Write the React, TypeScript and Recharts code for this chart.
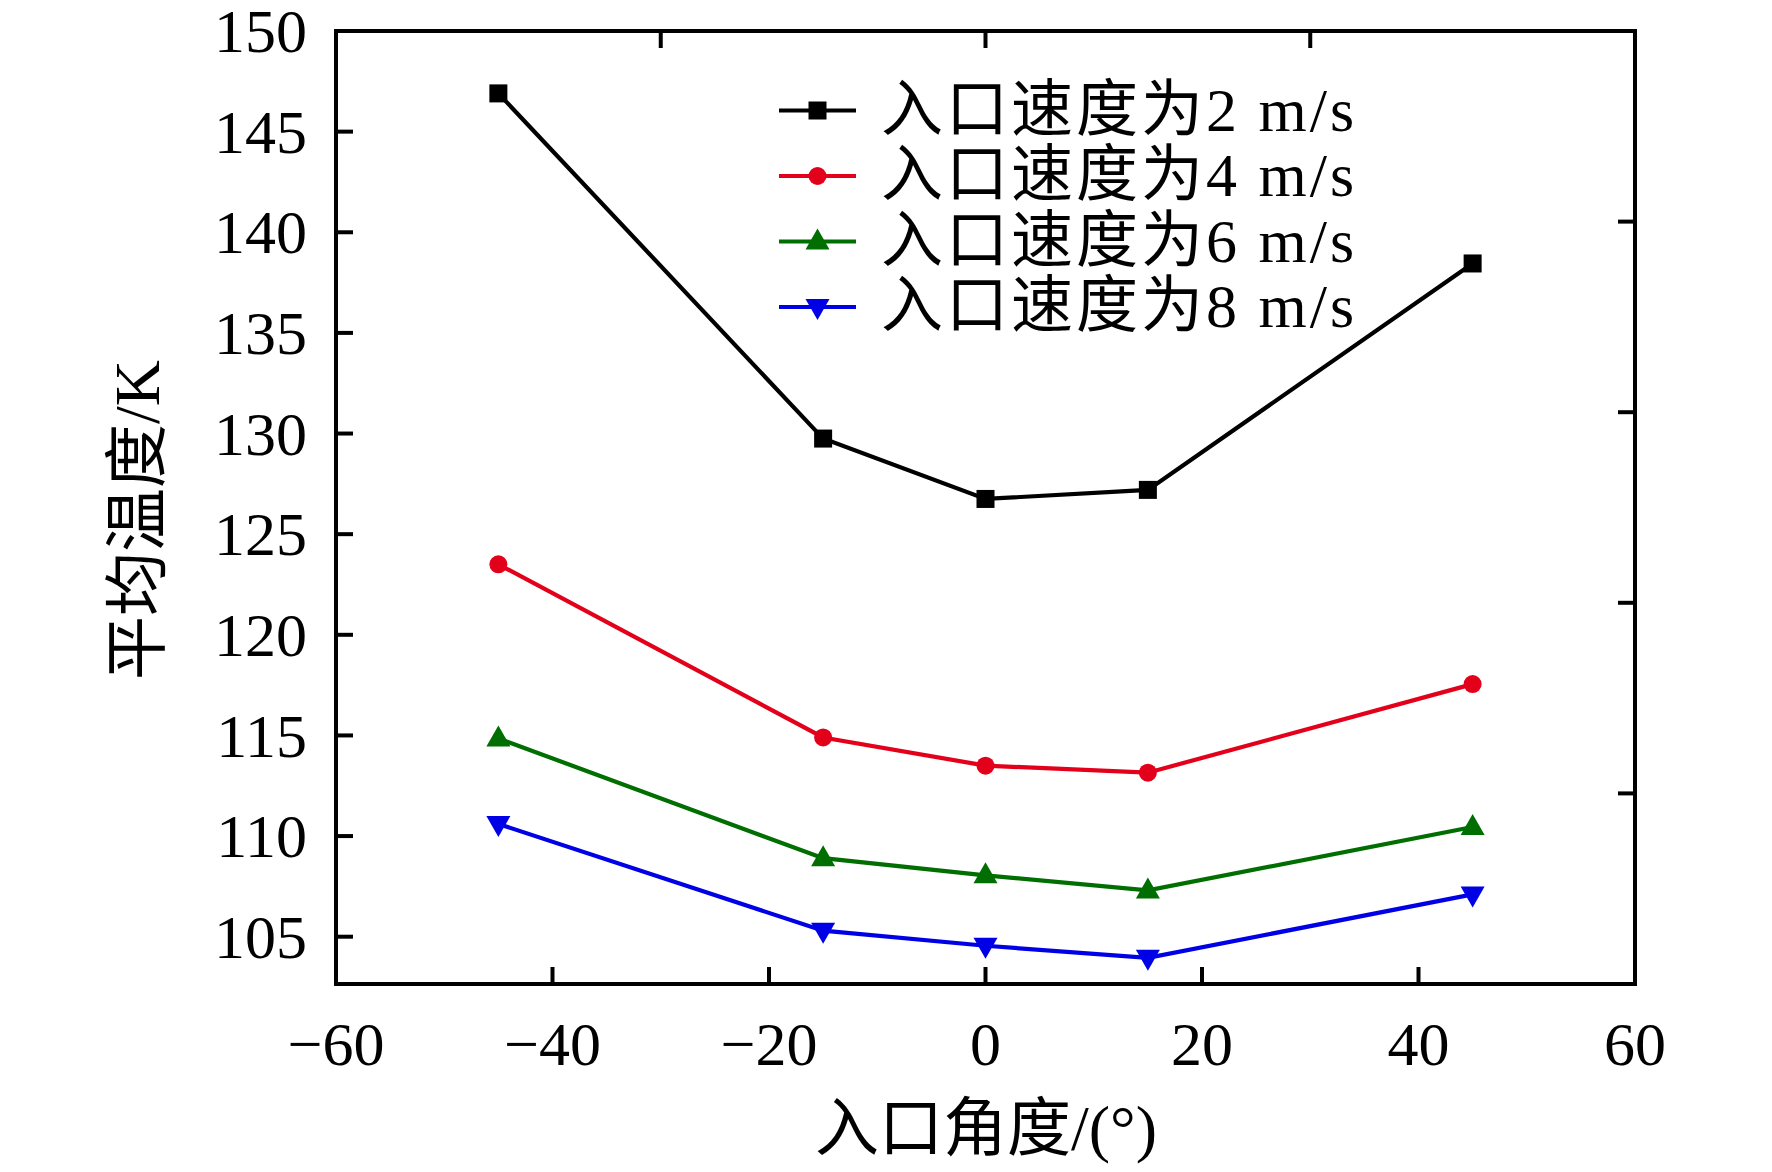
import React from 'react';
import { LineChart, Line, XAxis, YAxis } from 'recharts';

// ---- data ----
const angles = [-45, -15, 0, 15, 45];
const temp2 = [146.9, 129.75, 126.75, 127.2, 138.45];
const temp4 = [123.5, 114.9, 113.5, 113.15, 117.55];
const temp6 = [114.85, 108.9, 108.05, 107.3, 110.45];
const temp8 = [110.6, 105.3, 104.55, 103.95, 107.1];

const seriesKeys = ['v2', 'v4', 'v6', 'v8'];
const seriesNames = ['入口速度为2 m/s', '入口速度为4 m/s', '入口速度为6 m/s', '入口速度为8 m/s'];
const seriesColors = ['#000000', '#e3001b', '#006e00', '#0000e6'];
const seriesMarkers = ['square', 'circle', 'triangleUp', 'triangleDown'];

const xTicks = [-60, -40, -20, 0, 20, 40, 60];
const yTicks = [105, 110, 115, 120, 125, 130, 135, 140, 145, 150];
const xDomain = [-60, 60];
const yDomain = [102.65, 150];
const frameDomain = [0, 5];
const frameTicks = [1, 2, 3, 4];

const xLabel = '入口角度/(°)';
const yLabel = '平均温度/K';

const data = angles.map((a, i) => ({
  angle: a,
  v2: temp2[i],
  v4: temp4[i],
  v6: temp6[i],
  v8: temp8[i],
}));

// ---- style ----
const FONT = '"Liberation Serif", "Times New Roman", "Noto Sans CJK SC", serif';
const TICK_LEN = 17;
const AXIS_SW = 4;
const LINE_SW = 4.2;
const TICK_FS = 62;
const LABEL_FS = 64;

const fmt = (v: number) => (v < 0 ? '\u2212' + Math.abs(v) : String(v));

const Marker = ({ kind, cx, cy, color }: any) => {
  if (cx == null || cy == null) return null;
  if (kind === 'square') return <rect x={cx - 9} y={cy - 9} width={18} height={18} fill={color} />;
  if (kind === 'circle') return <circle cx={cx} cy={cy} r={9} fill={color} />;
  if (kind === 'triangleUp')
    return <polygon points={`${cx - 12},${cy + 8} ${cx + 12},${cy + 8} ${cx},${cy - 13}`} fill={color} />;
  return <polygon points={`${cx - 12},${cy - 8} ${cx + 12},${cy - 8} ${cx},${cy + 13}`} fill={color} />;
};

const LeftTick = (p: any) => (
  <g>
    <line x1={p.x} y1={p.y} x2={p.x + TICK_LEN} y2={p.y} stroke="#000" strokeWidth={AXIS_SW} />
    <text x={p.x - 29} y={p.y} dy="0.34em" textAnchor="end" fontSize={TICK_FS} fontFamily={FONT} fill="#000">
      {fmt(p.payload.value)}
    </text>
  </g>
);

const BottomTick = (p: any) => (
  <g>
    <line x1={p.x} y1={p.y} x2={p.x} y2={p.y - TICK_LEN} stroke="#000" strokeWidth={AXIS_SW} />
    <text x={p.x} y={p.y + 81} textAnchor="middle" fontSize={TICK_FS} fontFamily={FONT} fill="#000">
      {fmt(p.payload.value)}
    </text>
  </g>
);

const TopTick = (p: any) => (
  <line x1={p.x} y1={p.y} x2={p.x} y2={p.y + TICK_LEN} stroke="#000" strokeWidth={AXIS_SW} />
);

const RightTick = (p: any) => (
  <line x1={p.x} y1={p.y} x2={p.x - TICK_LEN} y2={p.y} stroke="#000" strokeWidth={AXIS_SW} />
);

const axisLine = { stroke: '#000', strokeWidth: AXIS_SW, strokeLinecap: 'square' as const };

const LegendOverlay = () => (
  <svg width={1772} height={400} style={{ position: 'absolute', left: 0, top: 0, pointerEvents: 'none' }}>
    {seriesNames.map((name, i) => {
      const y = 110.5 + i * 65.5;
      return (
        <g key={name}>
          <line x1={779} y1={y} x2={856} y2={y} stroke={seriesColors[i]} strokeWidth={LINE_SW} />
          <Marker kind={seriesMarkers[i]} cx={817.5} cy={y} color={seriesColors[i]} />
          <text x={881} y={y + 20} fontSize={62} fontFamily={FONT} fill="#000" letterSpacing={3}>
            {name}
          </text>
        </g>
      );
    })}
  </svg>
);

export default function App() {
  return (
    <div style={{ position: 'absolute', left: 0, top: 0, width: 1772, height: 1172, background: '#fff' }}>
      <LineChart
        width={1772}
        height={1172}
        data={data}
        margin={{ top: 30, right: 136, bottom: 88, left: 136 }}
      >
        <XAxis
          xAxisId="bottom"
          dataKey="angle"
          type="number"
          domain={xDomain}
          ticks={xTicks}
          allowDataOverflow
          height={100}
          tickSize={0}
          tickMargin={0}
          tickLine={false}
          axisLine={axisLine}
          tick={<BottomTick />}
          interval={0}
        />
        <XAxis
          xAxisId="top"
          orientation="top"
          type="number"
          domain={frameDomain}
          ticks={frameTicks}
          allowDataOverflow
          height={1}
          tickSize={0}
          tickMargin={0}
          tickLine={false}
          axisLine={axisLine}
          tick={<TopTick />}
          interval={0}
        />
        <YAxis
          yAxisId="left"
          type="number"
          domain={yDomain}
          ticks={yTicks}
          allowDataOverflow
          width={200}
          tickSize={0}
          tickMargin={0}
          tickLine={false}
          axisLine={axisLine}
          tick={<LeftTick />}
          interval={0}
        />
        <YAxis
          yAxisId="right"
          orientation="right"
          type="number"
          domain={frameDomain}
          ticks={frameTicks}
          allowDataOverflow
          width={1}
          tickSize={0}
          tickMargin={0}
          tickLine={false}
          axisLine={axisLine}
          tick={<RightTick />}
          interval={0}
        />
        {seriesKeys.map((k, i) => (
          <Line
            key={k}
            xAxisId="bottom"
            yAxisId="left"
            type="linear"
            dataKey={k}
            name={seriesNames[i]}
            stroke={seriesColors[i]}
            strokeWidth={LINE_SW}
            isAnimationActive={false}
            dot={(p: any) => (
              <Marker key={`${k}-${p.index}`} kind={seriesMarkers[i]} cx={p.cx} cy={p.cy} color={seriesColors[i]} />
            )}
            activeDot={false}
          />
        ))}
        <text
          x={986}
          y={1150}
          textAnchor="middle"
          fontSize={LABEL_FS}
          fontFamily={FONT}
          fill="#000"
        >
          {xLabel}
        </text>
        <text
          x={159}
          y={520}
          textAnchor="middle"
          fontSize={LABEL_FS}
          fontFamily={FONT}
          fill="#000"
          transform="rotate(-90, 159, 520)"
        >
          {yLabel}
        </text>
      </LineChart>
      <LegendOverlay />
    </div>
  );
}
